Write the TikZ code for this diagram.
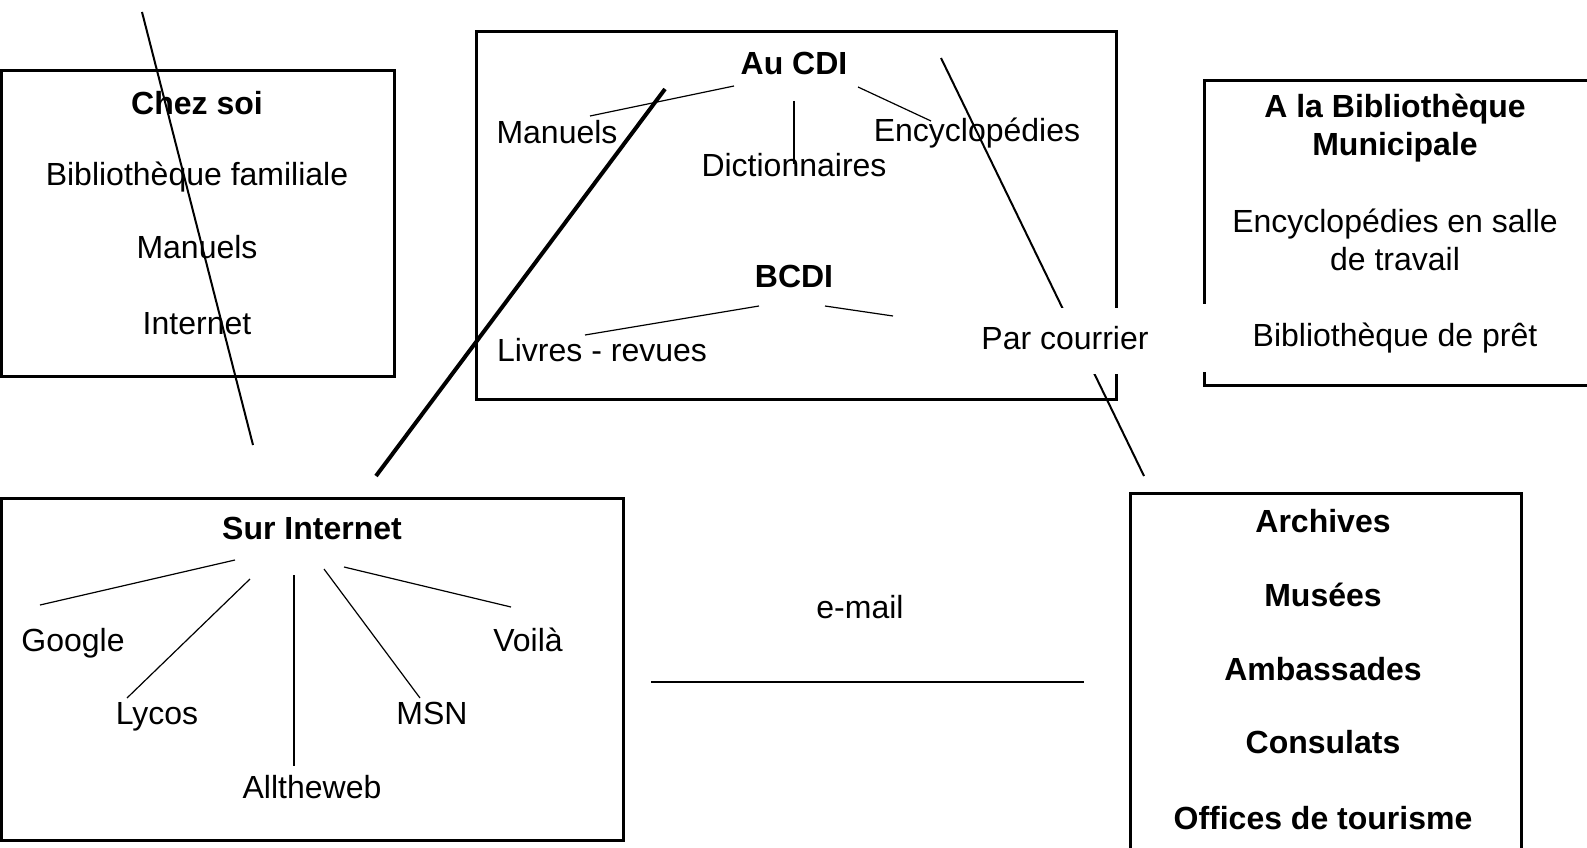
\documentclass[tikz,border=0pt]{standalone}
\usepackage{fontspec}
\setmainfont{Liberation Sans}
\usetikzlibrary{positioning}

\begin{document}
\begin{tikzpicture}[x=1pt,y=-1pt,font=\fontsize{32}{38}\selectfont,
 box/.style={draw,line width=3pt,inner sep=0pt},
 t/.style={inner sep=0pt,text height=23.5pt,text depth=6.7pt},
 tb/.style={t,font=\fontsize{32}{38}\selectfont\bfseries},
 mask/.style={t,fill=white},
 twig/.style={line width=1.2pt}]
\useasboundingbox (0,0) rectangle (1587,848);
% the five places
\node[box,minimum width=393pt,minimum height=305pt](soi) at (198,223.5){};
\node[box,minimum width=640pt,minimum height=367pt](cdi) at (796,215.5){};
\node[box,minimum width=396pt,minimum height=304pt](bm) at (1402,233){};
\node[box,minimum width=622pt,minimum height=342pt](web) at (312.5,669){};
\node[box,minimum width=391pt,minimum height=377pt](arch) at (1325.5,681.5){};
% chez soi
\node[tb](soih) at (197,106){Chez soi};
\node[t](fam) at (197,177){Bibliothèque familiale};
\node[t](man1) at (197,250){Manuels};
\node[t](inet) at (197,326){Internet};
% CDI
\node[tb](cdih) at (794,66){Au CDI};
\node[t](man2) at (557,135){Manuels};
\node[t](dico) at (794,168){Dictionnaires};
\node[t](ency) at (977,133){Encyclopédies};
\node[tb](bcdi) at (794,279){BCDI};
\node[t](livres) at (602,353){Livres - revues};
% bibliotheque municipale
\node[align=center,inner sep=0pt,font=\fontsize{32}{38}\selectfont\bfseries](bmh) at (1395,128){A la Bibliothèque\\Municipale};
\node[align=center,inner sep=0pt](salle) at (1395,240){Encyclopédies en salle\\de travail};
% internet
\node[tb](webh) at (312,531){Sur Internet};
\node[t](google) at (73,643){Google};
\node[t](lycos) at (157,716){Lycos};
\node[t](atw) at (312,790){Alltheweb};
\node[t](msn) at (432,716){MSN};
\node[t](voila) at (528,643){Voilà};
% archives etc.
\node[tb](archv) at (1323,524){Archives};
\node[tb](musee) at (1323,598){Musées};
\node[tb](amb) at (1323,672){Ambassades};
\node[tb](cons) at (1323,745){Consulats};
\node[tb](otour) at (1323,821){Offices de tourisme};
\node[t](email) at (860,610){e-mail};
% line ends
\coordinate (x1) at (142,12); \coordinate (x2) at (253,445);
\coordinate (k1) at (376,476); \coordinate (k2) at (665,89);
\coordinate (p1) at (941,58); \coordinate (p2) at (1144,476);
\coordinate (e1) at (651,682); \coordinate (e2) at (1084,682);
\coordinate (c1) at (734,86); \coordinate (c2) at (590,116);
\coordinate (c3) at (794,101); \coordinate (c4) at (794,164);
\coordinate (c5) at (858,87); \coordinate (c6) at (931,121);
\coordinate (b1) at (759,306); \coordinate (b2) at (585,335);
\coordinate (b3) at (825,306); \coordinate (b4) at (893,316);
\coordinate (w1) at (235,560); \coordinate (w2) at (40,605);
\coordinate (w3) at (250,579); \coordinate (w4) at (127,698);
\coordinate (w5) at (294,575); \coordinate (w6) at (294,766);
\coordinate (w7) at (324,569); \coordinate (w8) at (420,698);
\coordinate (w9) at (344,567); \coordinate (w10) at (511,607);
\draw[line width=2pt](x1)--(x2);
\draw[line width=4pt](k1)--(k2);
\draw[line width=2pt](p1)--(p2);
\draw[line width=2pt](e1)--(e2);
\draw[twig](c1)--(c2);\draw[twig](c3)--(c4);\draw[twig](c5)--(c6);
\draw[twig](b1)--(b2);\draw[twig](b3)--(b4);
\draw[twig](w1)--(w2);\draw[twig](w3)--(w4);\draw[twig](w5)--(w6);
\draw[twig](w7)--(w8);\draw[twig](w9)--(w10);
% white labels over the lines
\node[mask,minimum width=180pt,minimum height=66pt](courrier) at (1065,341){Par courrier};
\node[mask,minimum width=400pt,minimum height=68pt](pret) at (1395,338){Bibliothèque de prêt};
\end{tikzpicture}
\end{document}
